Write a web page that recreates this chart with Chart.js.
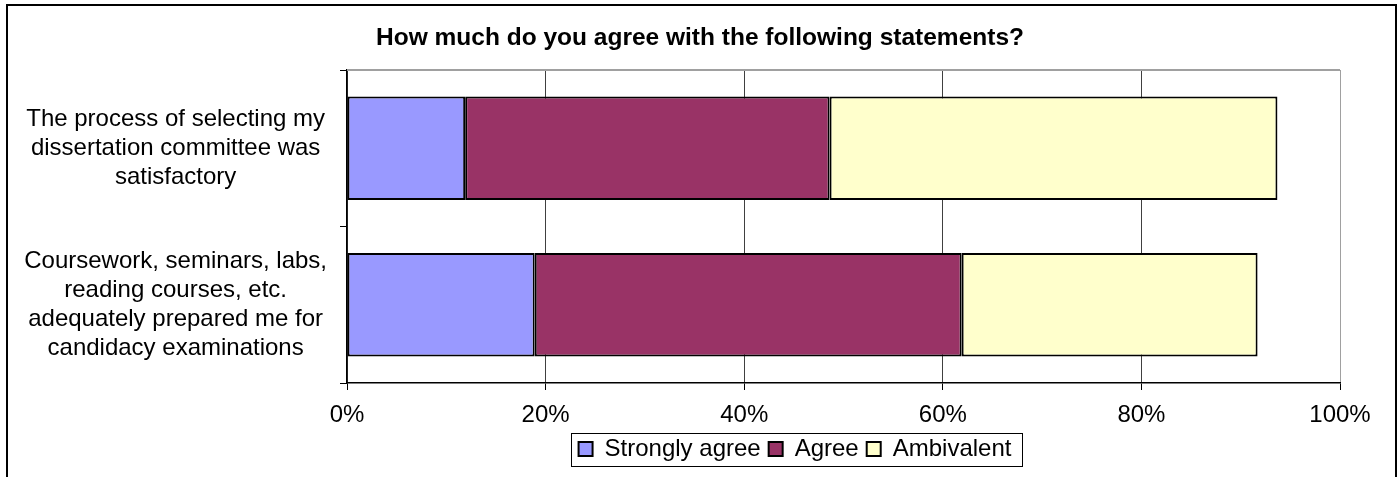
<!DOCTYPE html>
<html>
<head>
<meta charset="utf-8">
<script src="https://cdn.jsdelivr.net/npm/chart.js@4/dist/chart.umd.min.js"></script>
<style>
  body { margin: 0; background: #fff; }
  #marco {
    position: absolute; left: 6px; top: 4px;
    width: 1387px; height: 471px;
    border: 2px solid #000; border-bottom: none;
  }
</style>
</head>
<body>
<div id="marco"><canvas id="grafico"></canvas></div>
<script>
// datos
const categorias = [
  ['The process of selecting my', 'dissertation committee was', 'satisfactory'],
  ['Coursework, seminars, labs,', 'reading courses, etc.', 'adequately prepared me for', 'candidacy examinations']
];
const nombresSeries = ['Strongly agree', 'Agree', 'Ambivalent'];
const muyDeAcuerdo = [11.9, 18.9];
const deAcuerdo = [36.7, 43.0];
const ambivalente = [45.1, 29.8];
const valoresEjeX = [0, 20, 40, 60, 80, 100];
const tituloGrafico = 'How much do you agree with the following statements?';

const fuente = "'Liberation Sans', Arial, sans-serif";
Chart.defaults.color = '#000';
Chart.defaults.font.family = fuente;

// mueve titulo y leyenda, dibuja marco de leyenda y borde del area
const ajustes = {
  id: 'ajustes',
  afterLayout(chart) {
    chart.titleBlock.left += 26;
    chart.titleBlock.right += 26;
    chart.legend.left += 121;
    chart.legend.right += 121;
  },
  afterDraw(chart) {
    const ctx = chart.ctx;
    const area = chart.chartArea;
    ctx.save();
    ctx.strokeStyle = '#a0a0a0';
    ctx.lineWidth = 2;
    ctx.beginPath();
    ctx.moveTo(area.left, area.top);
    ctx.lineTo(area.right, area.top);
    ctx.stroke();

    const cajas = chart.legend.legendHitBoxes;
    if (cajas && cajas.length) {
      const x0 = cajas[0].left - 8;
      const ultima = cajas[cajas.length - 1];
      const x1 = ultima.left + ultima.width + 10;
      const y0 = cajas[0].top - 4;
      const y1 = cajas[0].top + cajas[0].height + 5;
      ctx.strokeStyle = '#000';
      ctx.lineWidth = 1;
      ctx.strokeRect(Math.round(x0) + 0.5, Math.round(y0) + 0.5, Math.round(x1 - x0), Math.round(y1 - y0));
    }
    ctx.restore();
  }
};

const ctx = document.getElementById('grafico').getContext('2d');
const miGrafico = new Chart(ctx, {
  type: 'bar',
  data: {
    labels: categorias,
    datasets: [
      { label: nombresSeries[0], data: muyDeAcuerdo, backgroundColor: '#9999FF' },
      { label: nombresSeries[1], data: deAcuerdo, backgroundColor: '#993366' },
      { label: nombresSeries[2], data: ambivalente, backgroundColor: '#FFFFCC' }
    ].map(d => Object.assign(d, {
      borderColor: '#000',
      borderWidth: 2,
      borderSkipped: false,
      barPercentage: 1,
      categoryPercentage: 0.66
    }))
  },
  options: {
    indexAxis: 'y',
    responsive: true,
    maintainAspectRatio: false,
    animation: false,
    layout: { padding: { left: 0, right: 55, top: 0, bottom: 6 } },
    plugins: {
      title: {
        display: true,
        text: tituloGrafico,
        color: '#000',
        font: { family: fuente, size: 24.5, weight: 'bold' },
        padding: { top: 18, bottom: 16.6 }
      },
      legend: {
        position: 'bottom',
        labels: {
          boxWidth: 14,
          boxHeight: 14,
          padding: 8,
          color: '#000',
          font: { family: fuente, size: 24 }
        }
      },
      tooltip: { enabled: false }
    },
    scales: {
      x: {
        stacked: true,
        min: 0,
        max: 100,
        afterBuildTicks: (eje) => { eje.ticks = valoresEjeX.map(v => ({ value: v })); },
        afterFit: (eje) => { eje.height = 46; eje.paddingLeft = 0; eje.paddingRight = 0; },
        ticks: {
          padding: 11,
          color: '#000',
          font: { family: fuente, size: 24 },
          maxRotation: 0,
          callback: (v) => v + '%'
        },
        grid: {
          color: (c) => (c.tick && c.tick.value === 100) ? '#a0a0a0' : '#404040',
          tickColor: '#000',
          tickLength: 7,
          lineWidth: 1
        },
        border: { color: '#000', width: 1.5 }
      },
      y: {
        stacked: true,
        afterFit: (eje) => { eje.width = 339; eje.paddingTop = 0; eje.paddingBottom = 0; },
        ticks: {
          crossAlign: 'center',
          padding: 13,
          color: '#000',
          font: { family: fuente, size: 24 }
        },
        grid: {
          drawOnChartArea: false,
          tickLength: 7,
          color: '#000'
        },
        border: { color: '#000', width: 1.5 }
      }
    }
  },
  plugins: [ajustes]
});
</script>
</body>
</html>
